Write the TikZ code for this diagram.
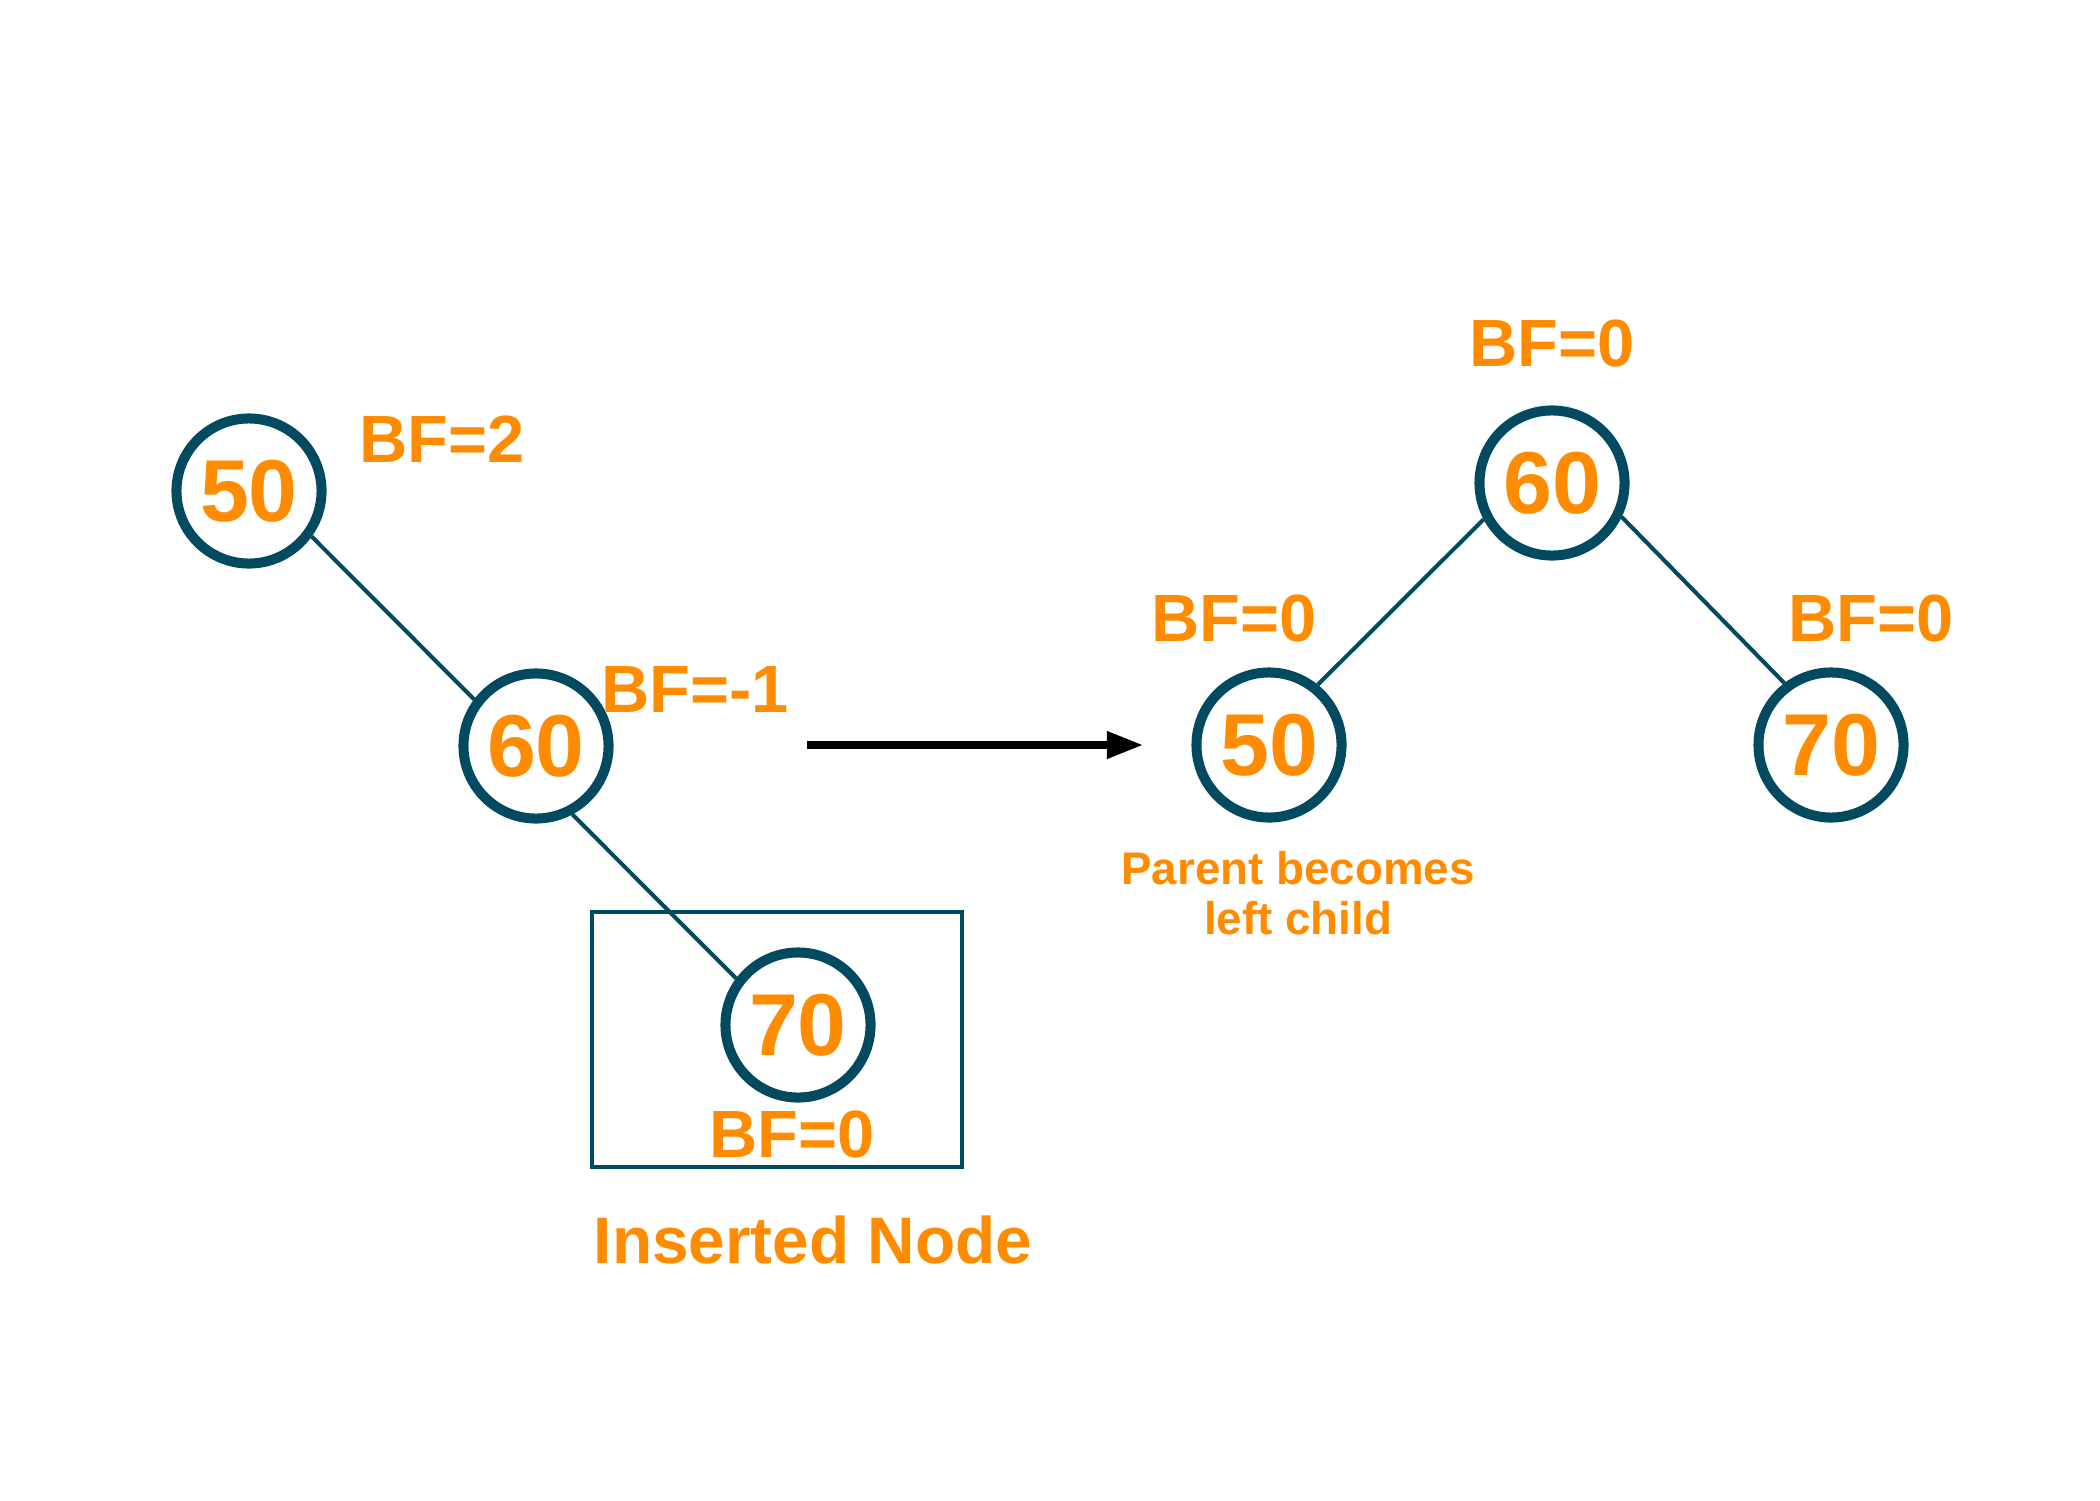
\documentclass[tikz,border=0pt]{standalone}
\usepackage{fontspec}
\setmainfont{Liberation Sans}
\usetikzlibrary{arrows.meta}
\definecolor{navy}{RGB}{1,74,96}
\definecolor{orng}{RGB}{255,140,0}
\begin{document}
\begin{tikzpicture}[x=0.01cm,y=-0.01cm,
  tnode/.style={circle,draw=navy,line width=2.85pt,minimum size=1.45cm,inner sep=0pt,
    text=orng,font=\fontsize{25}{30}\selectfont\bfseries},
  bf/.style={text=orng,font=\fontsize{19}{23}\selectfont\bfseries,inner sep=0pt},
  edge/.style={draw=navy,line width=1.15pt}]
\useasboundingbox[fill=white] (0,0) rectangle (2100,1500);
% left tree
\node[tnode] (a50) at (249,491) {50};
\node[tnode] (a60) at (536,746) {60};
\node[tnode] (a70) at (798,1025) {70};
\draw[edge] (a50.-36) -- (a60.143);
\draw[edge] (a60.-62) -- (a70.143);
\node[draw=navy,line width=1.15pt,minimum width=369cm/100,minimum height=255cm/100,inner sep=0pt] (box) at (777,1039.5) {};
\node[bf] (bfa50) at (442,439) {BF=2};
\node[bf] (bfa60) at (695,690) {BF=-1};
\node[bf] (bfa70) at (792,1134) {BF=0};
\node[text=orng,font=\fontsize{18.7}{22}\selectfont\bfseries,inner sep=0pt] (ins) at (813,1240) {Inserted Node};
% arrow
\coordinate (arS) at (807,745);
\coordinate (arE) at (1143,745);
\draw[line width=2pt,-{Triangle[length=0.36cm,width=0.26cm]}] (arS) -- (arE);
% right tree
\node[tnode] (b60) at (1552,483) {60};
\node[tnode] (b50) at (1269,745) {50};
\node[tnode] (b70) at (1831,745) {70};
\draw[edge] (b60.-152) -- (b50.51);
\draw[edge] (b60.-26) -- (b70.127);
\node[bf] (bfb60) at (1552,343) {BF=0};
\node[bf] (bfb50) at (1234,618) {BF=0};
\node[bf] (bfb70) at (1871,618) {BF=0};
\node[text=orng,font=\fontsize{13}{14.2}\selectfont\bfseries,align=center,inner sep=0pt] (par) at (1298,893) {Parent becomes\\left child};
\end{tikzpicture}
\end{document}
